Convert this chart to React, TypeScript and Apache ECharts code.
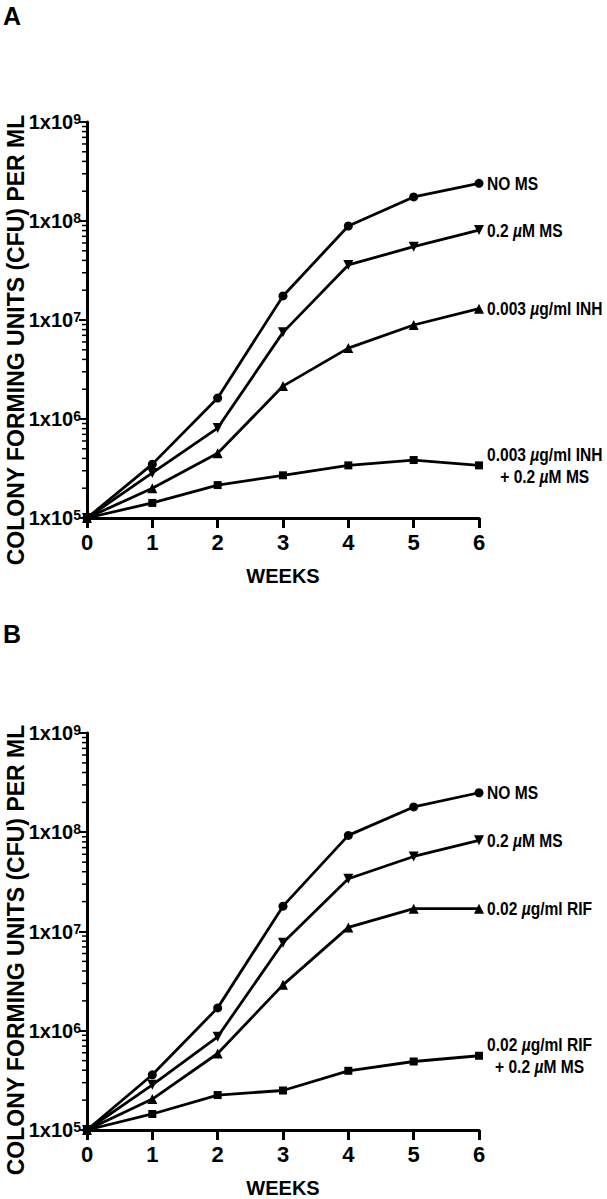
import React, { useEffect, useRef } from 'react';
import * as echarts from 'echarts';

const weeks = [0, 1, 2, 3, 4, 5, 6];

// Panel A
const aNoMS = [1e5, 3.5e5, 1.63e6, 1.75e7, 8.9e7, 1.75e8, 2.4e8];
const aMS = [1e5, 2.85e5, 8.1e5, 7.5e6, 3.6e7, 5.5e7, 8.1e7];
const aINH = [1e5, 2.0e5, 4.5e5, 2.15e6, 5.2e6, 8.9e6, 1.3e7];
const aINHMS = [1e5, 1.42e5, 2.15e5, 2.7e5, 3.4e5, 3.85e5, 3.4e5];
const aNames = ['NO MS', '0.2 µM MS', '0.003 µg/ml INH', '0.003 µg/ml INH\n+ 0.2 µM MS'];

// Panel B
const bNoMS = [1e5, 3.6e5, 1.7e6, 1.8e7, 9.3e7, 1.8e8, 2.5e8];
const bMS = [1e5, 2.85e5, 8.7e5, 7.7e6, 3.4e7, 5.7e7, 8.3e7];
const bRIF = [1e5, 2.05e5, 5.9e5, 2.9e6, 1.1e7, 1.7e7, 1.7e7];
const bRIFMS = [1e5, 1.45e5, 2.25e5, 2.5e5, 3.95e5, 4.9e5, 5.6e5];
const bNames = ['NO MS', '0.2 µM MS', '0.02 µg/ml RIF', '0.02 µg/ml RIF\n+ 0.2 µM MS'];

const panelLetters = ['A', 'B'];
const yTitle = 'COLONY FORMING UNITS (CFU) PER ML';
const xTitle = 'WEEKS';
const decades = [1e5, 1e6, 1e7, 1e8];
const minorMultipliers = [2, 3, 4, 5, 6, 7, 8, 9];

const symbols = ['circle', 'triangle', 'triangle', 'rect'];
const symbolRotations = [0, 180, 0, 0];
const symbolSizes = [9, 10, 10, 8];

const FONT = "'Liberation Sans', Arial, Helvetica, sans-serif";
const CONDENSE = 0.82;

const grids = [
  { left: 87, top: 122, width: 392, height: 396 },
  { left: 87, top: 733, width: 392, height: 397 },
];
const letterPos = [[3, 16], [3, 634]];
const titleCenter = [[16, 340], [16, 950]];

function labelRich(name: string) {
  return name
    .split('\n')
    .map((line) =>
      line
        .split('µ')
        .map((part) => (part ? `{n|${part}}` : ''))
        .join('{i|µ}')
    )
    .join('\n');
}

export default function App() {
  const ref = useRef<HTMLDivElement>(null);
  useEffect(() => {
    if (!ref.current) return;
    const chart = echarts.init(ref.current, undefined, { renderer: 'svg' });
    const minorTicks: number[] = [];
    decades.forEach((d) => minorMultipliers.forEach((m) => minorTicks.push(m * d)));

    const panels = [
      { data: [aNoMS, aMS, aINH, aINHMS], names: aNames },
      { data: [bNoMS, bMS, bRIF, bRIFMS], names: bNames },
    ];

    const series: any[] = [];
    panels.forEach((p, gi) => {
      p.data.forEach((vals, si) => {
        series.push({
          type: 'line',
          name: p.names[si],
          xAxisIndex: gi,
          yAxisIndex: gi,
          data: weeks.map((w, k) => [w, vals[k]]),
          symbol: symbols[si],
          symbolRotate: symbolRotations[si],
          symbolSize: symbolSizes[si],
          showAllSymbol: true,
          lineStyle: { color: '#000', width: 2.8 },
          itemStyle: { color: '#000' },
          clip: false,
          z: 3,
        });
      });
      series.push({
        type: 'custom',
        xAxisIndex: gi,
        yAxisIndex: gi,
        silent: true,
        clip: false,
        z: 1,
        data: minorTicks.map((v) => [0, v]),
        renderItem: (params: any, api: any) => {
          const pt = api.coord([0, api.value(1)]);
          return {
            type: 'line',
            shape: { x1: pt[0] - 5, y1: pt[1], x2: pt[0], y2: pt[1] },
            style: { stroke: '#000', lineWidth: 1.5 },
          };
        },
      });
    });

    const option: any = {
      animation: false,
      backgroundColor: '#fff',
      grid: grids.map((g) => ({ ...g, containLabel: false })),
      xAxis: grids.map((g, i) => ({
        type: 'value',
        gridIndex: i,
        min: 0,
        max: 6,
        interval: 1,
        axisLine: { show: true, onZero: false, lineStyle: { color: '#000', width: 3 } },
        axisTick: { show: true, length: 10, lineStyle: { color: '#000', width: 3 } },
        axisLabel: { color: '#000', fontFamily: FONT, fontWeight: 'bold', fontSize: 22, margin: 13 },
        splitLine: { show: false },
        name: xTitle,
        nameLocation: 'middle',
        nameGap: 48,
        nameTextStyle: { color: '#000', fontFamily: FONT, fontWeight: 'bold', fontSize: 20 },
      })),
      yAxis: grids.map((g, i) => ({
        type: 'log',
        logBase: 10,
        gridIndex: i,
        min: 1e5,
        max: 1e9,
        splitNumber: 4,
        axisLine: { show: true, onZero: false, lineStyle: { color: '#000', width: 3 } },
        axisTick: { show: true, length: 8, lineStyle: { color: '#000', width: 2 } },
        minorTick: { show: false },
        splitLine: { show: false },
        axisLabel: {
          margin: 6,
          formatter: (v: number) => `{a|1x10}{b|${Math.round(Math.log10(v))}}`,
          rich: {
            a: { fontFamily: FONT, fontWeight: 'bold', fontSize: 20, lineHeight: 20, color: '#000', verticalAlign: 'middle' },
            b: { fontFamily: FONT, fontWeight: 'bold', fontSize: 14, lineHeight: 12, color: '#000', verticalAlign: 'top' },
          },
        },
      })),
      series,
    };
    chart.setOption(option);

    const richStyles = {
      n: { font: `bold 19px ${FONT}`, fill: '#000', lineHeight: 22, align: 'center' },
      i: { font: `italic bold 19px ${FONT}`, fill: '#000', lineHeight: 22, align: 'center' },
    };
    const endLabels: any[] = [];
    panels.forEach((p, gi) => {
      p.data.forEach((vals, si) => {
        const last = weeks.length - 1;
        const pt = chart.convertToPixel({ gridIndex: gi }, [weeks[last], vals[last]]) as number[];
        endLabels.push({
          type: 'text',
          x: pt[0] + 8,
          y: pt[1],
          scaleX: CONDENSE,
          z: 10,
          style: {
            text: labelRich(p.names[si]),
            rich: richStyles,
            fill: '#000',
            font: `bold 19px ${FONT}`,
            textAlign: 'left',
            textVerticalAlign: 'middle',
            lineHeight: 22,
          },
        });
      });
    });

    chart.setOption({
      graphic: [
        ...panelLetters.map((t, i) => ({
          type: 'text',
          x: letterPos[i][0],
          y: letterPos[i][1],
          style: { text: t, fill: '#000', font: `bold 25px ${FONT}`, textVerticalAlign: 'middle' },
        })),
        ...titleCenter.map((c) => ({
          type: 'text',
          x: c[0],
          y: c[1],
          rotation: Math.PI / 2,
          style: { text: yTitle, fill: '#000', font: `bold 23px ${FONT}`, textAlign: 'center', textVerticalAlign: 'middle' },
        })),
        ...endLabels,
      ],
    });
    return () => chart.dispose();
  }, []);
  return <div ref={ref} style={{ position: 'absolute', left: 0, top: 0, width: 607, height: 1199, background: '#fff' }} />;
}
